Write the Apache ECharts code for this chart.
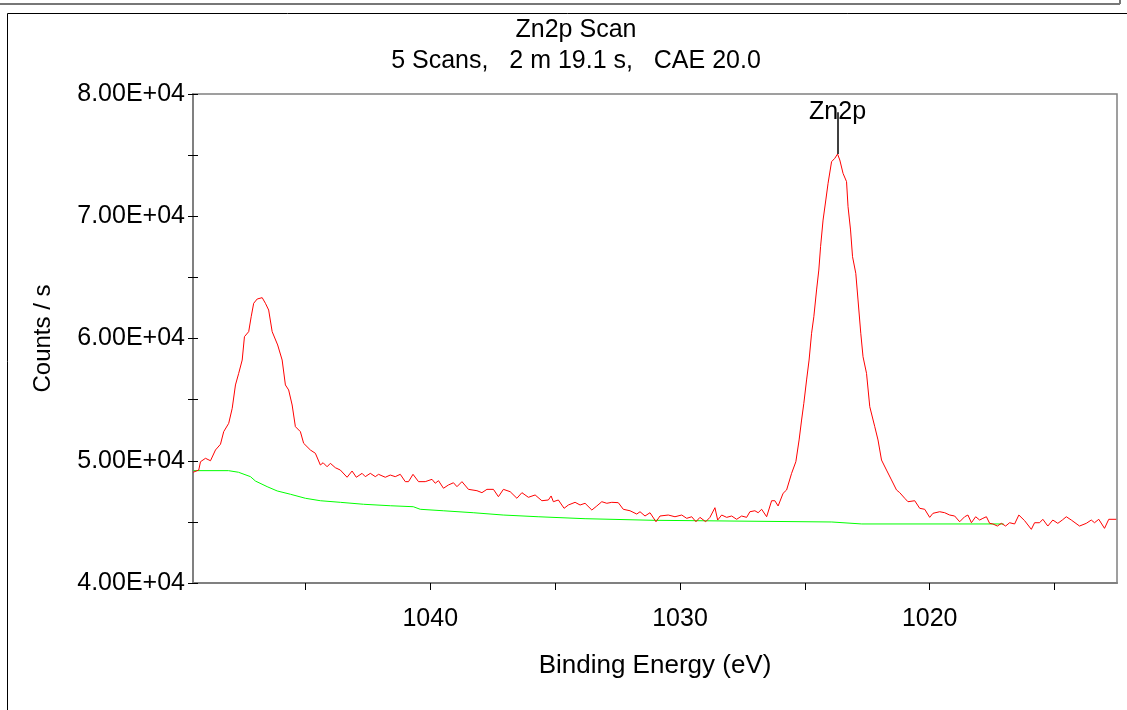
<!DOCTYPE html>
<html>
<head>
<meta charset="utf-8">
<script src="https://cdn.jsdelivr.net/npm/echarts@6/dist/echarts.min.js"></script>
<style>
  html, body { margin: 0; padding: 0; background: #fff; }
  #main { width: 1127px; height: 710px; }
</style>
</head>
<body>
<div id="main"></div>
<script>
// binding energy (eV) and counts/s of the Zn2p scan
var energy = [
  1049.49, 1049.27, 1049.20, 1049.00, 1048.80, 1048.60, 1048.40, 1048.27, 1048.07, 1047.93,
  1047.80, 1047.67, 1047.53, 1047.44, 1047.27, 1047.17, 1047.07, 1046.93, 1046.73, 1046.60,
  1046.47, 1046.33, 1046.11, 1045.93, 1045.80, 1045.67, 1045.53, 1045.40, 1045.20, 1045.07,
  1044.80, 1044.60, 1044.40, 1044.29, 1044.13, 1044.00, 1043.80, 1043.60, 1043.33, 1043.13,
  1042.96, 1042.73, 1042.60, 1042.40, 1042.20, 1042.07, 1041.80, 1041.60, 1041.40, 1041.20,
  1041.00, 1040.87, 1040.69, 1040.47, 1040.20, 1039.93, 1039.80, 1039.67, 1039.47, 1039.27,
  1039.07, 1038.93, 1038.73, 1038.47, 1038.13, 1037.93, 1037.73, 1037.47, 1037.27, 1037.07,
  1036.80, 1036.53, 1036.33, 1036.07, 1035.80, 1035.53, 1035.27, 1035.16, 1035.07, 1034.87,
  1034.64, 1034.47, 1034.20, 1034.00, 1033.80, 1033.53, 1033.33, 1033.13, 1032.93, 1032.73,
  1032.47, 1032.27, 1032.00, 1031.73, 1031.60, 1031.40, 1031.20, 1030.96, 1030.80, 1030.47,
  1030.20, 1029.93, 1029.73, 1029.53, 1029.36, 1029.20, 1028.97, 1028.80, 1028.60, 1028.49,
  1028.33, 1028.13, 1027.93, 1027.73, 1027.53, 1027.33, 1027.20, 1027.00, 1026.87, 1026.73,
  1026.53, 1026.33, 1026.20, 1026.07, 1025.87, 1025.73, 1025.53, 1025.36, 1025.23, 1025.13,
  1025.04, 1024.93, 1024.83, 1024.73, 1024.64, 1024.53, 1024.44, 1024.37, 1024.27, 1024.16,
  1024.07, 1023.93, 1023.80, 1023.69, 1023.60, 1023.47, 1023.33, 1023.27, 1023.17, 1023.09,
  1022.96, 1022.87, 1022.76, 1022.67, 1022.53, 1022.40, 1022.20, 1022.07, 1021.93, 1021.73,
  1021.53, 1021.33, 1021.20, 1021.00, 1020.87, 1020.60, 1020.40, 1020.20, 1020.00, 1019.87,
  1019.60, 1019.40, 1019.20, 1019.00, 1018.80, 1018.60, 1018.47, 1018.33, 1018.16, 1018.00,
  1017.87, 1017.73, 1017.60, 1017.47, 1017.29, 1017.13, 1016.96, 1016.80, 1016.60, 1016.43,
  1016.20, 1015.93, 1015.80, 1015.60, 1015.47, 1015.27, 1015.07, 1014.87, 1014.69, 1014.53,
  1014.33, 1014.00, 1013.73, 1013.53, 1013.40, 1013.23, 1013.00, 1012.83, 1012.53
]
var counts = [
  49060, 49240, 49920, 50200, 50000, 50880, 51350, 52380, 53060, 54290,
  56200, 57150, 58240, 60150, 60560, 61780, 62880, 63230, 63340, 62880,
  62330, 60560, 59470, 58240, 56200, 55790, 54560, 52790, 52380, 51430,
  50880, 50610, 49650, 49840, 49510, 49790, 49430, 49240, 48650, 49160,
  48650, 48970, 48700, 48970, 48700, 48890, 48650, 48830, 48700, 48890,
  48290, 48290, 48890, 48290, 48290, 48480, 48160, 48370, 47750, 48020,
  48200, 47880, 48290, 47660, 47550, 47390, 47660, 47660, 47060, 47660,
  47470, 46930, 47390, 47010, 47200, 46730, 46790, 47120, 46650, 46790,
  46110, 46380, 46600, 46380, 46520, 45970, 46300, 46650, 46520, 46600,
  46570, 46030, 45910, 45640, 45830, 45480, 45750, 45010, 45480, 45560,
  45420, 45560, 45290, 45420, 45010, 45370, 45010, 45370, 46160, 45150,
  45560, 45370, 45480, 45210, 45480, 45370, 45830, 45910, 45750, 46030,
  45420, 46730, 46730, 46300, 47340, 47610, 48970, 49920, 51700, 53330,
  54700, 56610, 58240, 60430, 61780, 63970, 65600, 67510, 69690, 71330,
  72700, 74460, 74740, 75090, 74600, 73510, 72830, 70780, 68880, 66690,
  65330, 63150, 60430, 58510, 57150, 54420, 52790, 51700, 50060, 49240,
  48430, 47610, 47390, 46930, 46650, 46730, 46110, 46030, 45370, 45700,
  45830, 45750, 45560, 45480, 45010, 45420, 45560, 44930, 45420, 45150,
  45290, 45420, 44880, 44830, 44660, 44880, 44660, 44930, 44830, 45560,
  45100, 44390, 44930, 44930, 45210, 44660, 45150, 44880, 45150, 45420,
  45150, 44660, 44880, 45150, 44930, 45210, 44470, 45210, 45210
]
// Shirley-type background (green)
var bgEnergy = [
  1049.47, 1048.08, 1047.68, 1047.20, 1047.00, 1046.53, 1046.13, 1045.60, 1045.00, 1044.40,
  1043.60, 1042.67, 1041.60, 1040.68, 1040.40, 1039.48, 1038.28, 1037.08, 1035.68, 1033.80,
  1031.08, 1023.92, 1022.72, 1017.04
]
var bgCounts = [
  49190, 49190, 49060, 48700, 48340, 47880, 47530, 47260, 46930, 46730,
  46600, 46440, 46320, 46240, 46030, 45910, 45750, 45560, 45420, 45260,
  45130, 44990, 44830, 44830
]
var peakName = 'Zn2p'
var peakPos = [1023.69, 75090]
var xTicks = [1015, 1020, 1025, 1030, 1035, 1040, 1045]
var xLabels = [1020, 1030, 1040]

var spectrum = energy.map(function (e, i) { return [e, counts[i]] })
var background = bgEnergy.map(function (e, i) { return [e, bgCounts[i]] })

function sci(v) {
  var s = v.toExponential(2).toUpperCase() // 8.00E+4
  return s.replace(/E([+-])(\d)$/, 'E$10$2')
}

var FONT = 'Liberation Sans'
var myChart = echarts.init(document.getElementById('main'))
myChart.setOption({
  animation: false,
  textStyle: { fontFamily: FONT, color: '#000' },
  title: {
    text: 'Zn2p Scan\n5 Scans,   2 m 19.1 s,   CAE 20.0',
    left: 571,
    top: 10,
    textAlign: 'center',
    textStyle: { fontFamily: FONT, fontSize: 25, fontWeight: 'normal', color: '#000', lineHeight: 31 }
  },
  graphic: [
    { type: 'line', shape: { x1: 0, y1: 4, x2: 1120, y2: 4 }, style: { stroke: '#777', lineWidth: 2 } },
    { type: 'line', shape: { x1: 1120, y1: 0, x2: 1120, y2: 4 }, style: { stroke: '#777', lineWidth: 2 } },
    { type: 'polyline', shape: { points: [[7.5, 710], [7.5, 13.5], [1127, 13.5]] }, style: { stroke: '#000', lineWidth: 1, fill: null } }
  ],
  grid: {
    left: 193, top: 94, right: 10, bottom: 127,
    show: true, borderColor: '#808080', borderWidth: 1.5, backgroundColor: 'transparent'
  },
  xAxis: {
    type: 'value',
    inverse: true,
    min: 1012.5,
    max: 1049.5,
    name: 'Binding Energy (eV)',
    nameLocation: 'middle',
    nameGap: 70,
    nameTextStyle: { fontFamily: FONT, fontSize: 26, color: '#000' },
    axisLine: { lineStyle: { color: '#808080', width: 2 } },
    axisTick: { customValues: xTicks, length: 7, lineStyle: { color: '#000' } },
    axisLabel: {
      customValues: xLabels, margin: 24, fontFamily: FONT, fontSize: 25, color: '#000',
      formatter: function (v) { return String(v) }
    },
    splitLine: { show: false }
  },
  yAxis: [
    {
      type: 'value',
      min: 40000,
      max: 80000,
      interval: 10000,
      name: 'Counts / s',
      nameLocation: 'middle',
      nameGap: 138,
      nameTextStyle: { fontFamily: FONT, fontSize: 24, color: '#000' },
      axisLine: { lineStyle: { color: '#808080', width: 2 } },
      axisTick: { length: 5, lineStyle: { color: '#000' } },
      minorTick: { show: true, splitNumber: 2, length: 5, lineStyle: { color: '#000' } },
      axisLabel: { margin: 8, fontFamily: FONT, fontSize: 25, color: '#000', formatter: sci },
      splitLine: { show: false }
    },
    {
      type: 'value',
      position: 'left',
      min: 40000,
      max: 80000,
      interval: 10000,
      axisLine: { show: false },
      axisTick: { inside: true, length: 5, lineStyle: { color: '#000' } },
      minorTick: { show: true, splitNumber: 2, length: 5, lineStyle: { color: '#000' } },
      axisLabel: { show: false },
      splitLine: { show: false }
    }
  ],
  series: [
    {
      name: 'Zn2p',
      type: 'line',
      data: spectrum,
      showSymbol: false,
      lineStyle: { color: '#ff0000', width: 1 },
      markLine: {
        silent: true,
        symbol: 'none',
        lineStyle: { color: '#000', width: 1.5, type: 'solid' },
        label: { show: false },
        data: [[{ coord: peakPos }, { coord: [peakPos[0], 78500] }]]
      },
      markPoint: {
        silent: true,
        symbol: 'circle',
        symbolSize: 1,
        itemStyle: { color: 'rgba(0,0,0,0)' },
        label: { show: true, position: 'inside', formatter: peakName, fontFamily: FONT, fontSize: 25, color: '#000' },
        data: [{ coord: [peakPos[0], 78500] }]
      },
      z: 3
    },
    {
      name: 'Background',
      type: 'line',
      data: background,
      showSymbol: false,
      lineStyle: { color: '#00ff00', width: 1 },
      z: 2
    }
  ]
})
</script>
</body>
</html>
